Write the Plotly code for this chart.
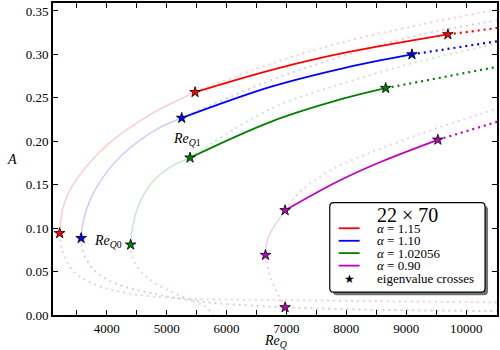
import plotly.graph_objects as go

# ---------------- data ----------------
# alpha = 1.15 (red)
red_up_re = [3214, 3258, 3352, 3519, 3740, 4017, 4378, 4820, 5264, 5475]
red_up_a = [0.0941, 0.1201, 0.1392, 0.1582, 0.1773, 0.1964, 0.2154, 0.2345, 0.2497, 0.2565]
red_low_re = [3214, 3258, 3428, 3762, 4373, 5317, 6500, 7800, 9000, 10545]
red_low_a = [0.0941, 0.0744, 0.0515, 0.0363, 0.0248, 0.019, 0.0175, 0.0165, 0.0155, 0.0145]
red_ext_re = [5475, 6759, 7878, 9212, 10545]
red_ext_a = [0.2565, 0.2897, 0.313, 0.334, 0.352]
red_bold_re = [5475, 6759, 7878, 9695]
red_bold_a = [0.2565, 0.2822, 0.3005, 0.323]
red_dot_re = [9695, 10545]
red_dot_a = [0.323, 0.3307]

# alpha = 1.10 (blue)
blue_up_re = [3573, 3590, 3656, 3768, 3934, 4155, 4461, 4876, 5252]
blue_up_a = [0.0884, 0.101, 0.1201, 0.1392, 0.1582, 0.1773, 0.1964, 0.2154, 0.2268]
blue_low_re = [3573, 3595, 3790, 4150, 4762, 5595, 6500, 7000, 7800, 9000, 10545]
blue_low_a = [0.0884, 0.0744, 0.0515, 0.0363, 0.0248, 0.0152, 0.0105, 0.0088, 0.007, 0.0055, 0.0045]
blue_ext_re = [5252, 6759, 7960, 9212, 10545]
blue_ext_a = [0.2268, 0.2707, 0.2985, 0.3223, 0.3395]
blue_bold_re = [5252, 6759, 7960, 9095]
blue_bold_a = [0.2268, 0.2631, 0.2843, 0.300]
blue_dot_re = [9095, 10545]
blue_dot_a = [0.300, 0.3154]

# alpha = 1.02056 (green)
green_up_re = [4399, 4430, 4500, 4620, 4800, 5050, 5391]
green_up_a = [0.0809, 0.101, 0.1201, 0.1392, 0.1560, 0.1700, 0.1811]
green_low_re = [4399, 4428, 4550, 4817, 5262, 5650, 5800]
green_low_a = [0.0809, 0.0667, 0.0515, 0.0363, 0.021, 0.0095, -0.002]
green_ext_re = [5391, 6759, 7960, 9212, 10545]
green_ext_a = [0.1811, 0.238, 0.267, 0.2918, 0.3127]
green_bold_re = [5391, 6759, 7960, 8657]
green_bold_a = [0.1811, 0.223, 0.2493, 0.2612]
green_dot_re = [8657, 10545]
green_dot_a = [0.2612, 0.286]

# alpha = 0.90 (magenta)
mag_up_re = [6650, 6662, 6723, 6978]
mag_up_a = [0.069, 0.080, 0.0935, 0.1205]
mag_low_re = [6650, 6712, 6850, 6978, 7010]
mag_low_a = [0.069, 0.0477, 0.0248, 0.0088, 0.0]
mag_ext_re = [6978, 7212, 7600, 7933, 9212, 10545]
mag_ext_a = [0.1205, 0.141, 0.161, 0.1735, 0.208, 0.238]
mag_bold_re = [6978, 7878, 8600, 9528]
mag_bold_a = [0.1205, 0.1545, 0.177, 0.2017]
mag_dot_re = [9528, 10545]
mag_dot_a = [0.2017, 0.223]

# eigenvalue crossings
star_re = [3214, 5475, 9695, 3573, 5252, 9095, 4399, 5391, 8657, 6978, 6650, 6978, 9528]
star_a = [0.0941, 0.2565, 0.323, 0.0884, 0.2268, 0.300, 0.0809, 0.1811, 0.2612, 0.1205, 0.069, 0.0088, 0.2017]
star_series = [0, 0, 0, 1, 1, 1, 2, 2, 2, 3, 3, 3, 3]

legend_labels = ["1.15", "1.10", "1.02056", "0.90"]
legend_title = "22 × 70"
x_tickvals = [4000, 5000, 6000, 7000, 8000, 9000, 10000]
y_tickvals = [0.0, 0.05, 0.10, 0.15, 0.20, 0.25, 0.30, 0.35]

# ---------------- styling ----------------
COLORS = [(255, 0, 0), (0, 0, 255), (0, 128, 0), (191, 0, 191)]
SERIF = "Liberation Serif, DejaVu Serif, serif"


def rgba(c, a):
    return "rgba(%d,%d,%d,%g)" % (c[0], c[1], c[2], a)


series = [
    (red_up_re, red_up_a, red_low_re, red_low_a, red_ext_re, red_ext_a, red_bold_re, red_bold_a, red_dot_re, red_dot_a),
    (blue_up_re, blue_up_a, blue_low_re, blue_low_a, blue_ext_re, blue_ext_a, blue_bold_re, blue_bold_a, blue_dot_re, blue_dot_a),
    (green_up_re, green_up_a, green_low_re, green_low_a, green_ext_re, green_ext_a, green_bold_re, green_bold_a, green_dot_re, green_dot_a),
    (mag_up_re, mag_up_a, mag_low_re, mag_low_a, mag_ext_re, mag_ext_a, mag_bold_re, mag_bold_a, mag_dot_re, mag_dot_a),
]

DOT = "2px,4px"
fig = go.Figure()


def add_line(x, y, color, width, dash="solid"):
    fig.add_trace(go.Scatter(x=x, y=y, mode="lines", hoverinfo="skip", showlegend=False,
                             line=dict(color=color, width=width, dash=dash, shape="spline", smoothing=1.0)))


for i, s in enumerate(series):
    c = COLORS[i]
    up_re, up_a, low_re, low_a, ext_re, ext_a, b_re, b_a, d_re, d_a = s
    add_line(up_re, up_a, rgba(c, 0.2), 1.5)
    add_line(low_re, low_a, rgba(c, 0.2), 2, DOT)
    add_line(ext_re, ext_a, rgba(c, 0.2), 2, DOT)
for i, s in enumerate(series):
    c = COLORS[i]
    up_re, up_a, low_re, low_a, ext_re, ext_a, b_re, b_a, d_re, d_a = s
    add_line(b_re, b_a, rgba(c, 1), 1.8)
    add_line(d_re, d_a, rgba(c, 1), 2.2, DOT)

fig.add_trace(go.Scatter(
    x=star_re, y=star_a, mode="markers", hoverinfo="skip", showlegend=False,
    marker=dict(symbol="star", size=8, color=[rgba(COLORS[k], 1) for k in star_series],
                line=dict(color="black", width=0.8))))

# ---------------- layout ----------------
L, R, T, B = 53, 1, 1, 35
W, H = 500, 350
PW, PH = W - L - R, H - T - B


def px(x):
    return (x - L) / PW


def py(y):
    return (H - B - y) / PH


axis_common = dict(showgrid=False, zeroline=False, showline=True, linecolor="black", linewidth=2,
                   mirror="ticks", ticks="inside", ticklen=5, tickwidth=1, tickcolor="black",
                   tickfont=dict(family=SERIF, size=13, color="black"))

fig.update_layout(
    width=W, height=H, margin=dict(l=L, r=R, t=T, b=B),
    paper_bgcolor="white", plot_bgcolor="white",
    xaxis=dict(range=[3103, 10515], tickvals=x_tickvals, ticktext=[str(v) for v in x_tickvals],
               minor=dict(dtick=500, tick0=0, ticks="inside", ticklen=5, tickwidth=1, tickcolor="black",
                          showgrid=False),
               **axis_common),
    yaxis=dict(range=[0, 0.3592], tickvals=y_tickvals,
               ticktext=["%.2f" % v for v in y_tickvals], **axis_common),
)


def label(text, x, y, size=14, xanchor="center"):
    return dict(text=text, x=px(x), y=py(y), xref="paper", yref="paper", showarrow=False,
                xanchor=xanchor, yanchor="middle", font=dict(family=SERIF, size=size, color="black"))


ann = []
ann.append(label("<i>A</i>", 12, 159))
ann.append(label("<i>Re</i><sub><i>Q</i></sub>", 277, 342))
ann.append(label("<i>Re</i><sub><i>Q</i>0</sub>", 108, 241))
ann.append(label("<i>Re</i><sub><i>Q</i>1</sub>", 188, 138))

# legend (drawn by hand)
bx0, bx1, by0, by1 = 331, 487, 202, 292


def rounded_path(x0, y0, x1, y1, r):
    rx, ry = r / PW, r / PH
    X0, X1, Y0, Y1 = px(x0), px(x1), py(y1), py(y0)
    return ("M %f,%f L %f,%f Q %f,%f %f,%f L %f,%f Q %f,%f %f,%f L %f,%f Q %f,%f %f,%f L %f,%f Q %f,%f %f,%f Z" % (
        X0 + rx, Y0, X1 - rx, Y0, X1, Y0, X1, Y0 + ry, X1, Y1 - ry, X1, Y1, X1 - rx, Y1,
        X0 + rx, Y1, X0, Y1, X0, Y1 - ry, X0, Y0 + ry, X0, Y0, X0 + rx, Y0))


shapes = []
shapes.append(dict(type="path", path=rounded_path(bx0 + 3, by0 + 3, bx1 + 3, by1 + 3, 4), xref="paper", yref="paper",
                   fillcolor="rgba(80,80,80,0.8)", line=dict(width=0), layer="above"))
shapes.append(dict(type="path", path=rounded_path(bx0, by0, bx1, by1, 4), xref="paper", yref="paper",
                   fillcolor="white", line=dict(color="black", width=1.2), layer="above"))
entry_y = [227.7, 240.3, 252.7, 265.3]
for i, lab in enumerate(legend_labels):
    shapes.append(dict(type="line", x0=px(340), x1=px(361), y0=py(entry_y[i]), y1=py(entry_y[i]),
                       xref="paper", yref="paper", line=dict(color=rgba(COLORS[i], 1), width=1.8), layer="above"))
    ann.append(label("<i>α</i> = " + lab, 376, entry_y[i], size=13, xanchor="left"))
ann.append(dict(text="★", x=px(351), y=py(278.7), xref="paper", yref="paper", xanchor="center", yanchor="middle",
                showarrow=False, font=dict(family="DejaVu Sans", size=12, color="black")))
ann.append(label("eigenvalue crosses", 376, 278.7, size=13, xanchor="left"))
ann.append(label(legend_title, 409, 214, size=20))

fig.update_layout(annotations=ann, shapes=shapes)
fig.write_html("out.html", config={"displayModeBar": False},
               post_script="document.body.style.margin='0';document.body.style.padding='0';")
